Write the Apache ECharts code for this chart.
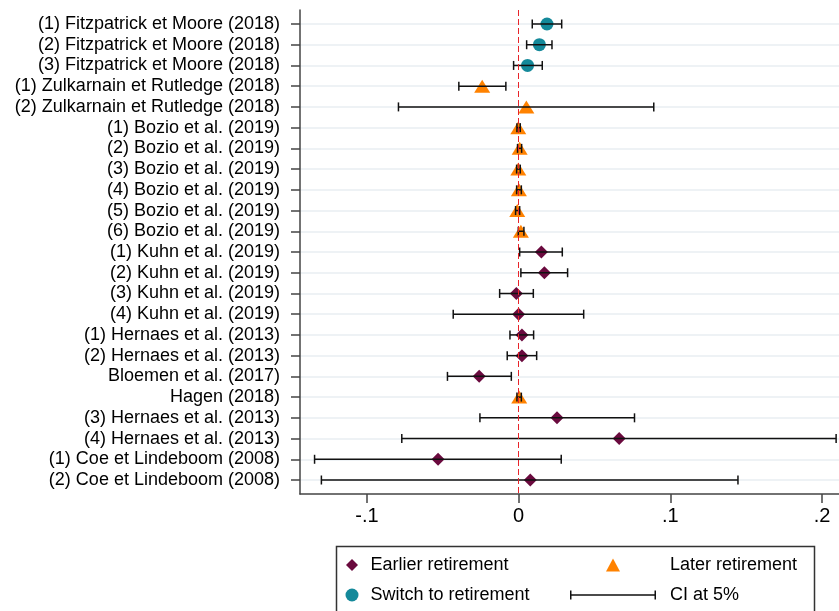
<!DOCTYPE html>
<html>
<head>
<meta charset="utf-8">
<script src="https://cdn.jsdelivr.net/npm/echarts@6/dist/echarts.min.js"></script>
<style>html,body{margin:0;padding:0;background:#fff}#c{width:839px;height:611px}</style>
</head>
<body>
<div id="c"></div>
<script>
const labels = [
  '(1) Fitzpatrick et Moore (2018)', '(2) Fitzpatrick et Moore (2018)', '(3) Fitzpatrick et Moore (2018)',
  '(1) Zulkarnain et Rutledge (2018)', '(2) Zulkarnain et Rutledge (2018)',
  '(1) Bozio et al. (2019)', '(2) Bozio et al. (2019)', '(3) Bozio et al. (2019)',
  '(4) Bozio et al. (2019)', '(5) Bozio et al. (2019)', '(6) Bozio et al. (2019)',
  '(1) Kuhn et al. (2019)', '(2) Kuhn et al. (2019)', '(3) Kuhn et al. (2019)', '(4) Kuhn et al. (2019)',
  '(1) Hernaes et al. (2013)', '(2) Hernaes et al. (2013)', 'Bloemen et al. (2017)', 'Hagen (2018)',
  '(3) Hernaes et al. (2013)', '(4) Hernaes et al. (2013)',
  '(1) Coe et Lindeboom (2008)', '(2) Coe et Lindeboom (2008)'
];
const est = [0.0187, 0.0137, 0.0059, -0.0240, 0.0051, -0.0002, 0.0007, -0.0002, 0.0002, -0.0009, 0.0015,
  0.0150, 0.0170, -0.0015, 0.0000, 0.0022, 0.0022, -0.0260, 0.0004, 0.0253, 0.0663, -0.0531, 0.0077];
const lo = [0.0090, 0.0053, -0.0033, -0.0394, -0.0792, -0.0011, -0.0007, -0.0013, -0.0013, -0.0020, -0.0002,
  0.0007, 0.0015, -0.0125, -0.0431, -0.0057, -0.0075, -0.0469, -0.0011, -0.0255, -0.0770, -0.1345, -0.1300];
const hi = [0.0284, 0.0220, 0.0156, -0.0084, 0.0891, 0.0011, 0.0020, 0.0011, 0.0018, 0.0007, 0.0035,
  0.0288, 0.0323, 0.0097, 0.0429, 0.0099, 0.0119, -0.0048, 0.0018, 0.0764, 0.2093, 0.0281, 0.1446];
const kind = ['S','S','S','L','L','L','L','L','L','L','L','E','E','E','E','E','E','E','L','E','E','E','E'];
const xTickValues = [-0.1, 0, 0.1, 0.2];
const xTickLabels = ['-.1', '0', '.1', '.2'];
const seriesNames = {E: 'Earlier retirement', L: 'Later retirement', S: 'Switch to retirement'};
const ciName = 'CI at 5%';

const rows = labels.map((_, i) => i + 1);
const FONT = '"Liberation Sans", Arial, sans-serif';
const C = {E: '#6a0a3e', L: '#ff8200', S: '#14899a'};

function pts(k) {
  const out = [];
  est.forEach((v, i) => { if (kind[i] === k) out.push([v, rows[i]]); });
  return out;
}
const ciData = est.map((_, i) => [lo[i], hi[i], rows[i]]);

const diamondIcon = 'path://M-7.5,0 M19.5,12 M6,0 L12,6 L6,12 L0,6 Z';
const triIcon = 'path://M-45,0 M59,13 M7,0 L14,13 L0,13 Z';
const ciIcon = 'path://M-9,-2 M95,11 M0,0h1.5v9h-1.5z M0,3.75h86v1.5h-86z M84.5,0h1.5v9h-1.5z';

const chart = echarts.init(document.getElementById('c'), null, {renderer: 'canvas'});
const axisCol = '#444';
chart.setOption({
  animation: false,
  backgroundColor: '#fff',
  textStyle: {fontFamily: FONT},
  grid: {left: 300, right: 0, top: 10, bottom: 117, containLabel: false},
  xAxis: {
    type: 'value', min: -0.1441, max: 0.2112,
    axisLine: {show: true, onZero: false, lineStyle: {color: axisCol, width: 1.5}},
    axisTick: {show: true, length: 9, customValues: xTickValues, lineStyle: {color: axisCol, width: 1.5}},
    axisLabel: {
      customValues: xTickValues, margin: 12, fontSize: 20, color: '#000', fontFamily: FONT,
      formatter: v => { const j = xTickValues.findIndex(t => Math.abs(t - v) < 1e-9); return j >= 0 ? xTickLabels[j] : ''; }
    },
    splitLine: {show: false}
  },
  yAxis: {
    type: 'value', inverse: true, min: 0.325, max: 23.675,
    axisLine: {show: true, onZero: false, lineStyle: {color: axisCol, width: 1.5}},
    axisTick: {show: true, length: 9, customValues: rows, lineStyle: {color: axisCol, width: 1.5}},
    axisLabel: {
      customValues: rows, margin: 20, fontSize: 18, color: '#000', fontFamily: FONT,
      formatter: v => labels[Math.round(v) - 1] || ''
    },
    splitLine: {show: true, lineStyle: {color: '#e8eef2', width: 1.5}}
  },
  legend: [
    {
      left: 338.5, top: 556, orient: 'vertical', padding: 0, itemGap: 12,
      itemWidth: 27, itemHeight: 13, selectedMode: false,
      textStyle: {fontSize: 18, color: '#000', fontFamily: FONT, lineHeight: 18},
      data: [{name: seriesNames.E, icon: diamondIcon}, {name: seriesNames.S, icon: 'circle'}]
    },
    {
      left: 561, top: 556, orient: 'vertical', padding: 0, itemGap: 12,
      itemWidth: 104, itemHeight: 13, selectedMode: false,
      textStyle: {fontSize: 18, color: '#000', fontFamily: FONT, lineHeight: 18},
      data: [{name: seriesNames.L, icon: triIcon}, {name: ciName, icon: ciIcon, itemStyle: {color: '#111'}}]
    }
  ],
  graphic: [{
    type: 'rect', silent: true,
    shape: {x: 336.5, y: 546.5, width: 478, height: 90},
    style: {fill: 'none', stroke: '#333', lineWidth: 1.5}
  }],
  series: [
    {name: seriesNames.E, type: 'scatter', data: pts('E'), symbol: 'diamond', symbolSize: 13,
      itemStyle: {color: C.E, opacity: 1}, z: 2},
    {name: seriesNames.L, type: 'scatter', data: pts('L'), symbol: 'triangle', symbolSize: [16, 13],
      itemStyle: {color: C.L, opacity: 1}, z: 2},
    {name: seriesNames.S, type: 'scatter', data: pts('S'), symbol: 'circle', symbolSize: 13,
      itemStyle: {color: C.S, opacity: 1}, z: 2},
    {
      name: ciName, type: 'custom', data: ciData, z: 3,
      itemStyle: {color: '#111'},
      encode: {x: [0, 1], y: 2},
      renderItem: (params, api) => {
        const y = api.value(2);
        const a = api.coord([api.value(0), y]);
        const b = api.coord([api.value(1), y]);
        const cap = 4.5;
        const st = {stroke: '#111', lineWidth: 1.5, fill: null};
        return {type: 'group', children: [
          {type: 'line', shape: {x1: a[0], y1: a[1], x2: b[0], y2: b[1]}, style: st},
          {type: 'line', shape: {x1: a[0], y1: a[1] - cap, x2: a[0], y2: a[1] + cap}, style: st},
          {type: 'line', shape: {x1: b[0], y1: b[1] - cap, x2: b[0], y2: b[1] + cap}, style: st}
        ]};
      },
      markLine: {
        silent: true, symbol: 'none', label: {show: false}, animation: false,
        lineStyle: {color: '#e8242a', type: [6, 3], width: 1},
        data: [{xAxis: 0}]
      }
    }
  ]
});
</script>
</body>
</html>
